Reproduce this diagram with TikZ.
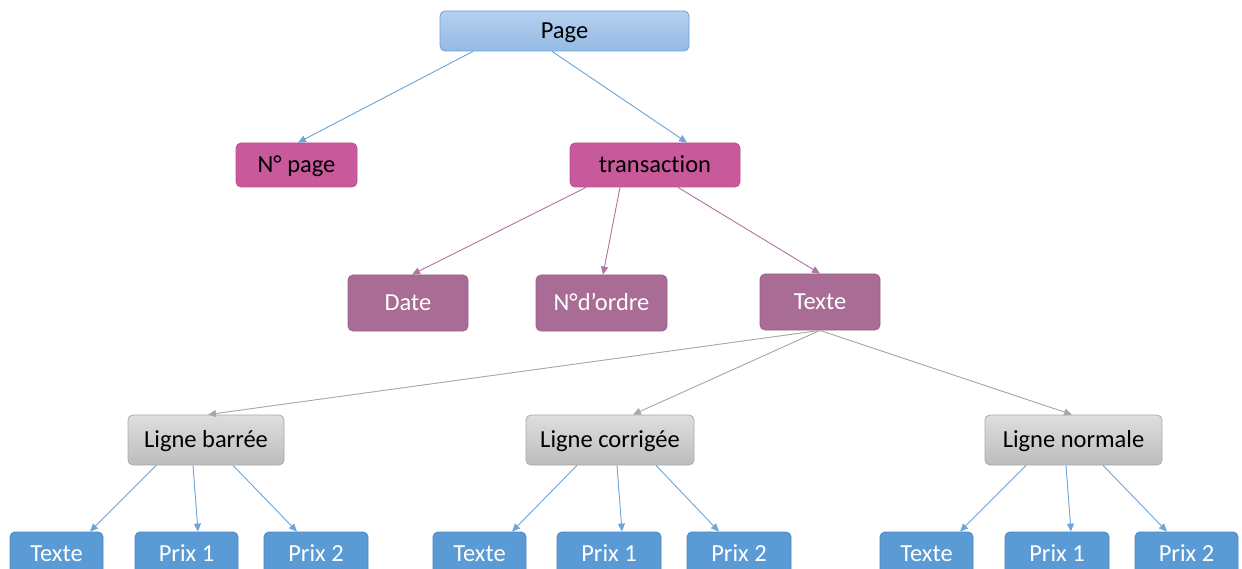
\documentclass[tikz,border=0pt]{standalone}
\usepackage{fontspec}
\setmainfont[Ligatures=NoCommon]{Carlito}
\usetikzlibrary{arrows.meta}
\definecolor{pgtop}{HTML}{B5D0F0}
\definecolor{pgbot}{HTML}{94BAE4}
\definecolor{pgbord}{HTML}{6A9FD8}
\definecolor{mag}{HTML}{C8599B}
\definecolor{magbord}{HTML}{BD5090}
\definecolor{pur}{HTML}{A86C95}
\definecolor{purbord}{HTML}{9E6089}
\definecolor{grtop}{HTML}{DEDEDE}
\definecolor{grbot}{HTML}{BDBDBD}
\definecolor{grbord}{HTML}{A9A9A9}
\definecolor{blu}{HTML}{5B9BD5}
\definecolor{bluebord}{HTML}{4A86C0}
\definecolor{eblue}{HTML}{6EA6DB}
\definecolor{epur}{HTML}{B374A3}
\definecolor{egray}{HTML}{A8A8A8}
\tikzset{
  box/.style={rectangle, rounded corners=5pt, inner sep=0pt, font=\fontsize{24.5}{27}\selectfont, text height=15.5pt, text depth=0pt, line width=0.8pt},
  pagebox/.style={box, top color=pgtop, bottom color=pgbot, draw=pgbord, text=black},
  magbox/.style={box, fill=mag, draw=magbord, text=black},
  purbox/.style={box, fill=pur, draw=purbord, text=white},
  graybox/.style={box, top color=grtop, bottom color=grbot, draw=grbord, text=black},
  bluebox/.style={box, fill=blu, draw=bluebord, text=white},
  edge/.style={line width=0.9pt, -{Triangle[length=8pt,width=7pt]}},
  eb/.style={edge, draw=eblue, fill=eblue},
  ep/.style={edge, draw=epur, fill=epur},
  eg/.style={edge, draw=egray, fill=egray},
}
\begin{document}
\begin{tikzpicture}[x=1pt,y=-1pt]
\useasboundingbox (0,0) rectangle (1242,569);
\clip (0,0) rectangle (1242,569);
% level 0
\node[pagebox, minimum width=249pt, minimum height=40pt] (page) at (564.5,31) {Page};
% level 1
\node[magbox, minimum width=121pt, minimum height=44pt] (npage) at (296.5,165) {N° page};
\node[magbox, minimum width=170pt, minimum height=44pt] (trans) at (655,165) {transaction};
% level 2
\node[purbox, minimum width=120pt, minimum height=56pt] (date) at (408,303) {Date};
\node[purbox, minimum width=131pt, minimum height=56pt] (ordre) at (601.5,303) {N°d’ordre};
\node[purbox, minimum width=120pt, minimum height=56pt] (texte) at (820,302) {Texte};
% level 3
\node[graybox, minimum width=156pt, minimum height=50pt] (lb) at (206,440) {Ligne barrée};
\node[graybox, minimum width=168pt, minimum height=50pt] (lc) at (610,440) {Ligne corrigée};
\node[graybox, minimum width=177pt, minimum height=50pt] (ln) at (1073.5,440) {Ligne normale};
% level 4
\node[bluebox, minimum width=93pt, minimum height=44pt] (lbt) at (56.5,554) {Texte};
\node[bluebox, minimum width=103pt, minimum height=44pt] (lbp1) at (186.5,554) {Prix 1};
\node[bluebox, minimum width=104pt, minimum height=44pt] (lbp2) at (316,554) {Prix 2};
\node[bluebox, minimum width=93pt, minimum height=44pt] (lct) at (479.5,554) {Texte};
\node[bluebox, minimum width=104pt, minimum height=44pt] (lcp1) at (609,554) {Prix 1};
\node[bluebox, minimum width=104pt, minimum height=44pt] (lcp2) at (739,554) {Prix 2};
\node[bluebox, minimum width=93pt, minimum height=44pt] (lnt) at (926.5,554) {Texte};
\node[bluebox, minimum width=104pt, minimum height=44pt] (lnp1) at (1057,554) {Prix 1};
\node[bluebox, minimum width=103pt, minimum height=44pt] (lnp2) at (1186.5,554) {Prix 2};
% edges
\draw[eb] ([xshift=-91.5pt]page.south) -- ([xshift=1.5pt]npage.north);
\draw[eb] ([xshift=-12.5pt]page.south) -- ([xshift=32pt]trans.north);
\draw[ep] ([xshift=-69pt]trans.south) -- ([xshift=4pt]date.north);
\draw[ep] ([xshift=-35pt]trans.south) -- ([xshift=1.5pt]ordre.north);
\draw[ep] ([xshift=23pt]trans.south) -- (texte.north);
\draw[eg] (texte.south) -- ([xshift=2pt]lb.north);
\draw[eg] (texte.south) -- ([xshift=23pt]lc.north);
\draw[eg] (texte.south) -- ([xshift=-1.5pt]ln.north);
\draw[eb] ([xshift=-50pt]lb.south) -- ([xshift=33.5pt]lbt.north);
\draw[eb] ([xshift=-13pt]lb.south) -- ([xshift=11.5pt]lbp1.north);
\draw[eb] ([xshift=27pt]lb.south) -- ([xshift=-19pt]lbp2.north);
\draw[eb] ([xshift=-33pt]lc.south) -- ([xshift=32.5pt]lct.north);
\draw[eb] ([xshift=7pt]lc.south) -- ([xshift=13pt]lcp1.north);
\draw[eb] ([xshift=46pt]lc.south) -- ([xshift=-20pt]lcp2.north);
\draw[eb] ([xshift=-47.5pt]ln.south) -- ([xshift=33.5pt]lnt.north);
\draw[eb] ([xshift=-7.5pt]ln.south) -- ([xshift=14pt]lnp1.north);
\draw[eb] ([xshift=29.5pt]ln.south) -- ([xshift=-19.5pt]lnp2.north);
\end{tikzpicture}
\end{document}
